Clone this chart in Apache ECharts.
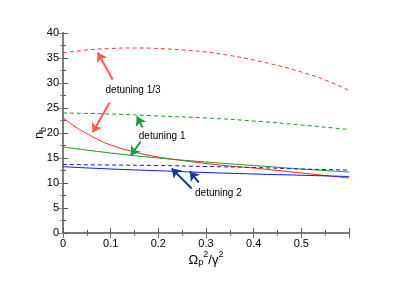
<!DOCTYPE html>
<html><head><meta charset="utf-8">
<script src="https://cdn.jsdelivr.net/npm/echarts@6/dist/echarts.min.js"></script>
<style>html,body{margin:0;padding:0;background:#fff}#c{width:398px;height:281px}</style>
</head><body><div id="c"></div>
<script>
const xRedDash = [0,0.05,0.1,0.15,0.2,0.25,0.3,0.35,0.4,0.45,0.5,0.55,0.6];
const redDash  = [36,36.6,36.9,37,36.9,36.6,36.2,35.5,34.6,33.5,32.2,30.6,28.5];
const xRed = [0,0.025,0.05,0.075,0.1,0.15,0.2,0.25,0.3,0.35,0.4,0.45,0.5,0.55,0.6];
const redSolid = [23.1,21.3,19.9,18.6,17.6,16.2,15.2,14.5,13.9,13.4,13.0,12.5,12.0,11.5,11.0];
const xStd = [0,0.1,0.2,0.3,0.4,0.5,0.6];
const greenDash = [24,23.8,23.4,23.0,22.4,21.6,20.7];
const greenSolid = [17.2,16.0,15.0,14.2,13.5,12.8,12.2];
const blueDash = [13.7,13.6,13.5,13.3,13.1,12.8,12.6];
const blueSolid = [13.25,12.8,12.45,12.1,11.8,11.55,11.3];
const xTicks = [0,0.1,0.2,0.3,0.4,0.5];
const yTicks = [0,5,10,15,20,25,30,35,40];

const labels = [
  {text:'detuning 1/3', coord:[0.147,28.5], align:'center'},
  {text:'detuning 1', coord:[0.159,19.3], align:'left'},
  {text:'detuning 2', coord:[0.277,7.9], align:'left'}
];
const arrows = [
  {from:[0.104,30.7], to:[0.073,36.1], color:'#ff5a4a'},
  {from:[0.098,26.1], to:[0.062,20.1], color:'#ff5a4a'},
  {from:[0.167,21.1], to:[0.155,23.3], color:'#1a9a3a'},
  {from:[0.163,18.3], to:[0.142,15.5], color:'#1a9a3a'},
  {from:[0.270,8.9], to:[0.228,12.9], color:'#1a3aa0'},
  {from:[0.285,10.1], to:[0.266,12.3], color:'#1a3aa0'}
];

function pairs(xs, ys){ return xs.map((x,i)=>[x,ys[i]]); }
function line(xs, ys, color, type){
  return {type:'line', data:pairs(xs,ys), smooth:true, symbol:'none',
    lineStyle:{color:color, width:1, type:type}, silent:true, z:3};
}

const font = 'Liberation Sans, Arial, Helvetica, sans-serif';
const chart = echarts.init(document.getElementById('c'));
const baseX = {type:'value', min:0, max:0.6, interval:0.1};
const baseY = {type:'value', min:0, max:40, interval:5};

const series = [
  line(xRedDash, redDash, '#ff3030', [4,3]),
  line(xRed, redSolid, '#ff1a1a', 'solid'),
  line(xStd, greenDash, '#1a9a1a', [4,3]),
  line(xStd, greenSolid, '#1a9a1a', 'solid'),
  line(xStd, blueDash, '#1010ff', [4,3]),
  line(xStd, blueSolid, '#1010ff', 'solid'),
  {type:'line', data:[], silent:true,
    markLine:{silent:true, animation:false, symbol:['none','arrow'], symbolSize:9,
      label:{show:false},
      data: arrows.map(a=>[{coord:a.from, lineStyle:{color:a.color, width:2, type:'solid'}, itemStyle:{color:a.color}},{coord:a.to}])},
    markPoint:{silent:true, animation:false, symbol:'circle', symbolSize:0,
      data: labels.map(l=>({coord:l.coord, label:{show:true, formatter:l.text, position:'inside', align:l.align,
        color:'#000', fontSize:10, fontFamily:font}}))}
  }
];

chart.setOption({
  animation:false,
  grid:{left:63, right:49, top:33, bottom:48},
  xAxis:[
    Object.assign({}, baseX, {position:'bottom',
      name:'{a|Ω}{sub|p}{sup|2}{a|/γ}{sup|2}', nameLocation:'middle', nameGap:17, nameMoveOverlap:false,
      nameTextStyle:{rich:{
        a:{fontSize:13, fontFamily:font, color:'#000', verticalAlign:'bottom'},
        sub:{fontSize:9, fontFamily:font, color:'#000', padding:[8,0,0,0]},
        sup:{fontSize:9, fontFamily:font, color:'#000', padding:[0,0,8,0]}}},
      axisLine:{lineStyle:{color:'#222', width:1.5}},
      axisTick:{inside:true, length:5, lineStyle:{color:'#555'}},
      minorTick:{show:true, splitNumber:2, length:3, lineStyle:{color:'#555'}},
      splitLine:{show:false},
      axisLabel:{fontSize:11, fontFamily:font, color:'#000', margin:5,
        formatter:v=> xTicks.some(t=>Math.abs(t-v)<1e-9) ? String(Math.round(v*10)/10) : ''}}),
    Object.assign({}, baseX, {position:'top',
      axisLine:{lineStyle:{color:'#888', width:1.5}},
      axisTick:{inside:true, length:5, lineStyle:{color:'#777'}},
      minorTick:{show:true, splitNumber:2, length:3, lineStyle:{color:'#777'}},
      splitLine:{show:false}, axisLabel:{show:false}})
  ],
  yAxis:[
    Object.assign({}, baseY, {position:'left',
      name:'{a|n}{sub|b}', nameLocation:'middle', nameGap:15, nameRotate:90, nameMoveOverlap:false,
      nameTextStyle:{rich:{
        a:{fontSize:13, fontFamily:font, color:'#000'},
        sub:{fontSize:9, fontFamily:font, color:'#000', padding:[8,0,0,0]}}},
      axisLine:{lineStyle:{color:'#222', width:1.5}},
      axisTick:{inside:true, length:5, lineStyle:{color:'#555'}},
      minorTick:{show:true, splitNumber:2, length:3, lineStyle:{color:'#555'}},
      splitLine:{show:false},
      axisLabel:{fontSize:11, fontFamily:font, color:'#000', margin:4,
        formatter:v=> yTicks.indexOf(v)>=0 ? String(v) : ''}}),
    Object.assign({}, baseY, {position:'right',
      axisLine:{lineStyle:{color:'#888', width:1.5}},
      axisTick:{inside:true, length:5, lineStyle:{color:'#888'}},
      minorTick:{show:true, splitNumber:2, length:3, lineStyle:{color:'#888'}},
      splitLine:{show:false}, axisLabel:{show:false}})
  ],
  series: series
});
</script></body></html>
